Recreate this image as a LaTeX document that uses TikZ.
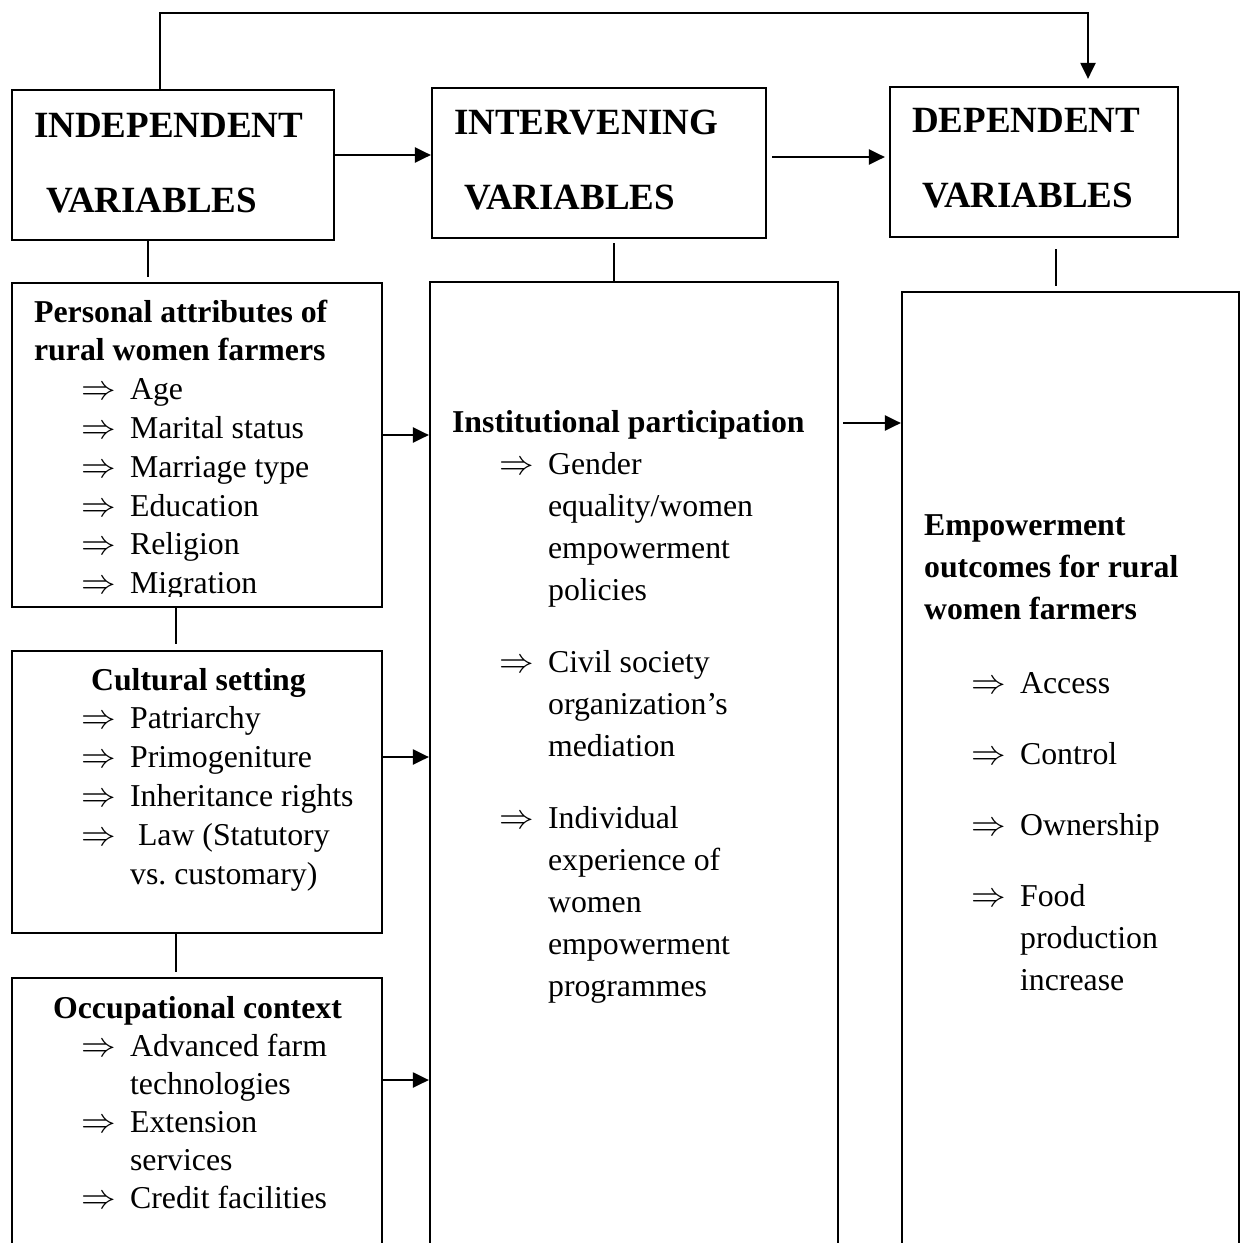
\documentclass[tikz,border=0pt]{standalone}
\usepackage{fontspec}
\setmainfont{Liberation Serif}
\usetikzlibrary{arrows.meta}
\newcommand{\arr}{\makebox[24.5pt][l]{$\Rightarrow$}}
\newcommand{\ind}{\hspace*{23.5pt}}
\newcommand{\cont}{\hspace*{48pt}}
\begin{document}
\begin{tikzpicture}[x=0.5pt,y=-0.5pt,line width=1.1pt,
  box/.style={draw,inner sep=0pt},
  head/.style={anchor=base west,inner sep=0pt,font=\fontsize{18.5}{37.5}\selectfont\bfseries},
  body/.style={anchor=base west,inner sep=0pt,font=\fontsize{15.9}{19.4}\selectfont},
  tip/.style={-{Triangle[length=8pt,width=7.5pt]}}]
\useasboundingbox (0,0) rectangle (1246,1242);
\clip (0,0) rectangle (1246,1242);
% Top row
\node[box,minimum width=161pt,minimum height=75pt] (indep) at (173,165) {};
\node[box,minimum width=167pt,minimum height=75pt] (interv) at (599,163) {};
\node[box,minimum width=144pt,minimum height=75pt] (dep) at (1034,162) {};
\node[head] (indeptxt) at (33,137) {\begin{tabular}[t]{@{}l@{}}INDEPENDENT\\ \hspace*{6pt}VARIABLES\end{tabular}};
\node[head] (intervtxt) at (453,134) {\begin{tabular}[t]{@{}l@{}}INTERVENING\\ \hspace*{5pt}VARIABLES\end{tabular}};
\node[head] (deptxt) at (911,132) {\begin{tabular}[t]{@{}l@{}}DEPENDENT\\ \hspace*{5pt}VARIABLES\end{tabular}};
% Lower boxes
\node[box,minimum width=185pt,minimum height=162pt] (pers) at (197,445) {};
\node[box,minimum width=185pt,minimum height=141pt] (cult) at (197,792) {};
\node[box,minimum width=185pt,minimum height=161pt] (occ) at (197,1139) {};
\node[box,minimum width=204pt,minimum height=509pt] (inst) at (634,791) {};
\node[box,minimum width=168.5pt,minimum height=504pt] (outc) at (1070.5,796) {};
% Texts
\begin{scope}
\clip (12,283) rectangle (382,596);
\node[body] (perstxt) at (33,322) {\begin{tabular}[t]{@{}l@{}}
\textbf{Personal attributes of}\\ \textbf{rural women farmers}\\
\ind\arr Age\\ \ind\arr Marital status\\ \ind\arr Marriage type\\
\ind\arr Education\\ \ind\arr Religion\\ \ind\arr Migration\end{tabular}};
\end{scope}
\node[body] (culttxt) at (80,690) {\begin{tabular}[t]{@{}l@{}}
\hspace*{5pt}\textbf{Cultural setting}\\
\arr Patriarchy\\ \arr Primogeniture\\ \arr Inheritance rights\\
\arr\ Law (Statutory\\ \hspace*{24.5pt}vs.\ customary)\end{tabular}};
\node[body,font=\fontsize{15.9}{19}\selectfont] (occtxt) at (52,1018) {\begin{tabular}[t]{@{}l@{}}
\textbf{Occupational context}\\
\hspace*{14pt}\arr Advanced farm\\ \hspace*{38.5pt}technologies\\
\hspace*{14pt}\arr Extension\\ \hspace*{38.5pt}services\\
\hspace*{14pt}\arr Credit facilities\end{tabular}};
\node[body,font=\fontsize{15.9}{21}\selectfont] (insttxt) at (451,432) {\begin{tabular}[t]{@{}l@{}}
\textbf{Institutional participation}\\
\ind\arr Gender\\ \cont equality/women\\ \cont empowerment\\ \cont policies\\[15pt]
\ind\arr Civil society\\ \cont organization’s\\ \cont mediation\\[15pt]
\ind\arr Individual\\ \cont experience of\\ \cont women\\ \cont empowerment\\ \cont programmes\end{tabular}};
\node[body,font=\fontsize{15.9}{21}\selectfont] (outctxt) at (923,535) {\begin{tabular}[t]{@{}l@{}}
\textbf{Empowerment}\\ \textbf{outcomes for rural}\\ \textbf{women farmers}\\[16pt]
\ind\arr Access\\[14.5pt] \ind\arr Control\\[14.5pt] \ind\arr Ownership\\[14.5pt]
\ind\arr Food\\ \cont production\\ \cont increase\end{tabular}};
% Connectors
\coordinate (loopA) at (160,13);
\coordinate (loopB) at (1088,13);
\coordinate (rowA) at (0,155);
\coordinate (rowB) at (0,157);
\coordinate (stubA) at (148,0);
\coordinate (stubB) at (614,0);
\coordinate (stubC) at (1056,0);
\coordinate (stubD) at (176,0);
\coordinate (inA) at (0,435);
\coordinate (inB) at (0,757);
\coordinate (inC) at (0,1080);
\coordinate (outA) at (0,423);
\draw[tip,shorten >=3.5pt] (indep.north -| loopA) -- (loopA) -- (loopB) -- (dep.north -| loopB);
\draw[tip] (indep.east |- rowA) -- (interv.west |- rowA);
\draw[tip,shorten <=2.5pt,shorten >=2pt] (interv.east |- rowB) -- (dep.west |- rowB);
\draw[shorten >=2.5pt] (indep.south -| stubA) -- (pers.north -| stubA);
\draw[shorten <=2pt] (interv.south -| stubB) -- (inst.north -| stubB);
\draw[shorten <=5.5pt,shorten >=2.5pt] (dep.south -| stubC) -- (outc.north -| stubC);
\draw[shorten >=3pt] (pers.south -| stubD) -- (cult.north -| stubD);
\draw[shorten >=2.5pt] (cult.south -| stubD) -- (occ.north -| stubD);
\draw[tip] (pers.east |- inA) -- (inst.west |- inA);
\draw[tip] (cult.east |- inB) -- (inst.west |- inB);
\draw[tip] (occ.east |- inC) -- (inst.west |- inC);
\draw[tip,shorten <=2pt] (inst.east |- outA) -- (outc.west |- outA);
\end{tikzpicture}
\end{document}
